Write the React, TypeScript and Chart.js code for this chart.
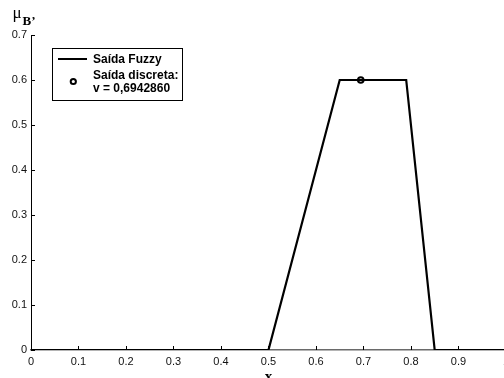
import React, { useEffect, useRef } from "react";
import { Chart, registerables } from "chart.js";

Chart.register(...registerables);

const xValues = [0, 0.5, 0.65, 0.79, 0.85, 1];
const muValues = [0, 0, 0.6, 0.6, 0, 0];
const crispX = [0.694286];
const crispY = [0.6];
const xTickValues = [0, 0.1, 0.2, 0.3, 0.4, 0.5, 0.6, 0.7, 0.8, 0.9, 1];
const yTickValues = [0, 0.1, 0.2, 0.3, 0.4, 0.5, 0.6, 0.7];
const fuzzyLabel = "Saída Fuzzy";
const crispLabel = "Saída discreta:";
const crispValueLabel = "v = " + crispX[0].toFixed(7).replace(".", ",");
const xTitle = "x";
const yTitleMain = "μ";
const yTitleSub = "B’";

const fmt = (v: number) => (Math.abs(v) < 1e-9 ? "0" : (Math.round(v * 10) / 10).toString());

const decorPlugin = {
  id: "decor",
  afterDraw(chart: any) {
    const ctx = chart.ctx;
    const xs = chart.scales.x;
    const ys = chart.scales.y;
    const area = chart.chartArea;
    ctx.save();
    // inward tick marks
    ctx.strokeStyle = "#000";
    ctx.lineWidth = 1;
    ctx.beginPath();
    xTickValues.forEach((v) => {
      const px = Math.round(xs.getPixelForValue(v)) + 0.5;
      ctx.moveTo(px, area.bottom);
      ctx.lineTo(px, area.bottom - 4);
    });
    yTickValues.forEach((v) => {
      const py = Math.round(ys.getPixelForValue(v)) + 0.5;
      ctx.moveTo(area.left, py);
      ctx.lineTo(area.left + 4, py);
    });
    ctx.stroke();

    // axis titles
    ctx.fillStyle = "#000";
    ctx.textBaseline = "alphabetic";
    ctx.textAlign = "center";
    ctx.font = "bold 15px 'Liberation Serif', 'Times New Roman', serif";
    ctx.fillText(xTitle, (area.left + area.right) / 2, 381);
    ctx.textAlign = "left";
    ctx.font = "17px 'Liberation Serif', 'Times New Roman', serif";
    ctx.fillText(yTitleMain, 12.5, 17.5);
    ctx.font = "bold 13px 'Liberation Serif', 'Times New Roman', serif";
    ctx.fillText(yTitleSub, 22.5, 25);

    // legend
    const lx = 52.5, ly = 48.5, lw = 130, lh = 52;
    ctx.fillStyle = "#fff";
    ctx.fillRect(lx, ly, lw, lh);
    ctx.strokeStyle = "#000";
    ctx.lineWidth = 1;
    ctx.strokeRect(lx, ly, lw, lh);
    ctx.lineWidth = 2;
    ctx.beginPath();
    ctx.moveTo(58, 59);
    ctx.lineTo(87, 59);
    ctx.stroke();
    ctx.lineWidth = 2;
    ctx.beginPath();
    ctx.arc(73.3, 81.5, 2.6, 0, Math.PI * 2);
    ctx.stroke();
    ctx.fillStyle = "#000";
    ctx.font = "bold 12px 'Liberation Sans', Arial, sans-serif";
    ctx.textBaseline = "middle";
    ctx.fillText(fuzzyLabel, 93, 59.5);
    ctx.fillText(crispLabel, 93, 76);
    ctx.fillText(crispValueLabel, 93, 89);
    ctx.restore();
  },
};

export default function App() {
  const ref = useRef<HTMLCanvasElement>(null);
  useEffect(() => {
    if (!ref.current) return;
    const chart = new Chart(ref.current, {
      type: "scatter",
      data: {
        datasets: [
          {
            label: fuzzyLabel,
            data: xValues.map((x, i) => ({ x, y: muValues[i] })),
            showLine: true,
            borderColor: "#000",
            borderWidth: 2.2,
            pointRadius: 0,
            fill: false,
            order: 2,
          } as any,
          {
            label: crispLabel,
            data: crispX.map((x, i) => ({ x, y: crispY[i] })),
            showLine: false,
            pointRadius: 2.8,
            pointBorderWidth: 2,
            pointBorderColor: "#000",
            pointBackgroundColor: "rgba(0,0,0,0)",
            order: 1,
          } as any,
        ],
      },
      options: {
        animation: false,
        responsive: false,
        maintainAspectRatio: false,
        layout: { padding: { top: 35, left: 0, right: 5, bottom: 0 } },
        plugins: { legend: { display: false }, tooltip: { enabled: false } },
        scales: {
          x: {
            type: "linear",
            min: 0,
            max: 1,
            grid: { display: false, drawTicks: false },
            border: { display: true, color: "#6a6a6a", width: 1.5 },
            afterFit: (s: any) => {
              s.height = 28;
            },
            afterBuildTicks: (s: any) => {
              s.ticks = xTickValues.map((v) => ({ value: v }));
            },
            ticks: {
              autoSkip: false,
              maxRotation: 0,
              padding: 5,
              color: "#111",
              font: { family: "'Liberation Sans', Arial, sans-serif", size: 11 },
              callback: (v: any) => fmt(Number(v)),
            },
          },
          y: {
            type: "linear",
            min: 0,
            max: 0.7,
            grid: { display: false, drawTicks: false },
            border: { display: true, color: "#000", width: 1 },
            afterFit: (s: any) => {
              s.width = 31;
            },
            afterBuildTicks: (s: any) => {
              s.ticks = yTickValues.map((v) => ({ value: v }));
            },
            ticks: {
              padding: 4,
              color: "#111",
              font: { family: "'Liberation Sans', Arial, sans-serif", size: 11 },
              callback: (v: any) => fmt(Number(v)),
            },
          },
        },
      },
      plugins: [decorPlugin],
    });
    return () => chart.destroy();
  }, []);
  return (
    <div
      style={{
        position: "absolute",
        left: 0,
        top: 0,
        width: 504,
        height: 378,
        overflow: "hidden",
        background: "#fff",
      }}
    >
      <canvas ref={ref} width={514} height={378} style={{ display: "block" }} />
    </div>
  );
}
